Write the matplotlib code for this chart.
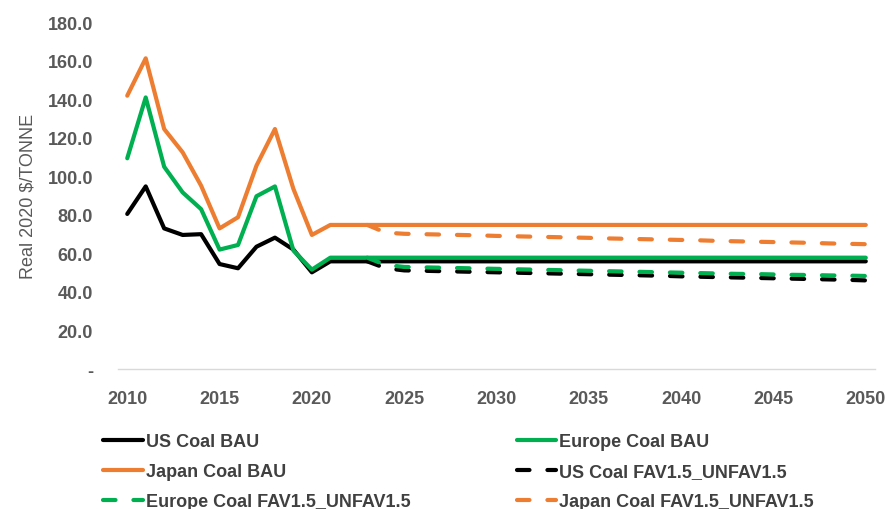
import numpy as np
import matplotlib.pyplot as plt
from matplotlib.ticker import FuncFormatter

years = np.arange(2010, 2051)
fav_years = np.arange(2023, 2051)

# BAU series, 2010-2021 history then flat
us_bau = [80.5, 94.8, 73.0, 69.6, 70.0, 54.5, 52.3, 63.5, 68.2, 62.0, 50.2, 55.9] + [55.9] * 29
europe_bau = [109.4, 141.0, 105.0, 91.7, 83.0, 62.0, 64.4, 89.7, 94.8, 61.5, 51.6, 57.8] + [57.8] * 29
japan_bau = [141.9, 161.3, 124.6, 112.5, 95.2, 73.0, 78.8, 105.6, 124.6, 93.5, 69.6, 74.8] + [74.8] * 29

# FAV1.5_UNFAV1.5 series, 2023-2050
us_fav = [55.9, 52.3, 51.2, 51.0, 50.8, 50.6, 50.4, 50.2, 50.0, 49.8, 49.6, 49.4, 49.2, 49.0,
          48.8, 48.6, 48.4, 48.1, 47.9, 47.7, 47.5, 47.3, 47.1, 46.9, 46.7, 46.5, 46.3, 46.0]
europe_fav = [57.8, 54.0, 53.0, 52.8, 52.6, 52.4, 52.2, 52.0, 51.8, 51.6, 51.4, 51.2, 51.0, 50.8,
              50.6, 50.4, 50.2, 50.0, 49.8, 49.6, 49.4, 49.3, 49.1, 48.9, 48.8, 48.6, 48.5, 48.3]
japan_fav = [74.8, 70.8, 70.2, 70.0, 69.8, 69.6, 69.4, 69.1, 68.9, 68.7, 68.5, 68.3, 68.1, 67.8,
             67.6, 67.4, 67.2, 67.0, 66.8, 66.5, 66.3, 66.1, 65.9, 65.7, 65.5, 65.2, 65.0, 64.8]

black = '#000000'
green = '#00B050'
orange = '#ED7D31'
grey = '#595959'

plt.rcParams['font.family'] = ['Liberation Sans', 'DejaVu Sans']

fig = plt.figure(figsize=(8.86, 5.10), dpi=100)
ax = fig.add_axes([0.1332, 0.2745, 0.8544, 0.6798])

lw = 3
dash = (3.0, 4.3)
h1, = ax.plot(years, us_bau, color=black, lw=lw, label='US Coal BAU', solid_capstyle='round')
h2, = ax.plot(years, europe_bau, color=green, lw=lw, label='Europe Coal BAU', solid_capstyle='round')
h3, = ax.plot(years, japan_bau, color=orange, lw=lw, label='Japan Coal BAU', solid_capstyle='round')
h4, = ax.plot(fav_years, us_fav, color=black, lw=lw, dashes=dash, dash_capstyle='round',
              label='US Coal FAV1.5_UNFAV1.5')
h5, = ax.plot(fav_years, europe_fav, color=green, lw=lw, dashes=dash, dash_capstyle='round',
              label='Europe Coal FAV1.5_UNFAV1.5')
h6, = ax.plot(fav_years, japan_fav, color=orange, lw=lw, dashes=dash, dash_capstyle='round',
              label='Japan Coal FAV1.5_UNFAV1.5')

ax.set_xlim(2009.5, 2050.5)
ax.set_ylim(0, 180)
ax.set_xticks(np.arange(2010, 2051, 5))
ax.set_yticks(np.arange(0, 181, 20))
ax.yaxis.set_major_formatter(FuncFormatter(lambda v, p: '-' if v == 0 else '%.1f' % v))

for s in ['top', 'right', 'left']:
    ax.spines[s].set_visible(False)
ax.spines['bottom'].set_color('#D9D9D9')
ax.spines['bottom'].set_linewidth(1.0)
ax.tick_params(axis='both', length=0, labelsize=13, colors=grey)
ax.tick_params(axis='x', pad=15)
ax.tick_params(axis='y', pad=18)
for lab in ax.get_xticklabels() + ax.get_yticklabels():
    lab.set_fontweight('bold')

ax.set_ylabel('Real 2020 $/TONNE', fontsize=13, color=grey, labelpad=8)

leg = fig.legend([h1, h3, h5, h2, h4, h6],
                 [h.get_label() for h in [h1, h3, h5, h2, h4, h6]],
                 ncol=2, loc='upper left', bbox_to_anchor=(0.098, 0.18),
                 frameon=False, handlelength=2.2, handletextpad=0.15,
                 columnspacing=5.9, labelspacing=0.72,
                 prop={'weight': 'bold', 'size': 13})
for t in leg.get_texts():
    t.set_color('#404040')

plt.savefig('out.png', dpi=100)
